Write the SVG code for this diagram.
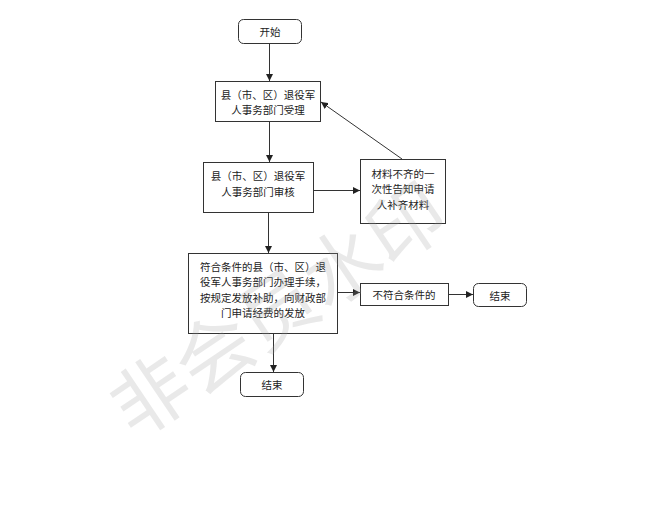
<svg xmlns="http://www.w3.org/2000/svg" width="646" height="520" viewBox="0 0 646 520">
<defs>
<style>
.box{fill:#fff;stroke:#333;stroke-width:1}
.t{font-family:"Noto Sans CJK SC","Noto Sans",sans-serif;font-size:10.5px;fill:#222;text-anchor:middle;dominant-baseline:central}
.ln{stroke:#333;stroke-width:1;fill:none;marker-end:url(#ah)}
.wm{font-family:"Noto Sans CJK SC",sans-serif;font-size:77px;fill:#999;fill-opacity:0.22;text-anchor:middle;dominant-baseline:central}
</style>
<marker id="ah" viewBox="0 0 10 10" refX="10" refY="5" markerWidth="7" markerHeight="7" markerUnits="userSpaceOnUse" orient="auto">
<path d="M0,0 L10,5 L0,10 z" fill="#222"/>
</marker>
</defs>
<rect width="646" height="520" fill="#fff"/>
<g id="connectors">
<line class="ln" x1="269.5" y1="43" x2="269.5" y2="81"/>
<line class="ln" x1="269.5" y1="121" x2="269.5" y2="162"/>
<line class="ln" x1="268.5" y1="212" x2="268.5" y2="253"/>
<line class="ln" x1="313" y1="190.5" x2="360" y2="190.5"/>
<line class="ln" x1="402" y1="159" x2="321" y2="102"/>
<line class="ln" x1="337" y1="292.5" x2="360" y2="292.5"/>
<line class="ln" x1="448" y1="294.5" x2="473" y2="294.5"/>
<line class="ln" x1="273.5" y1="334" x2="273.5" y2="372"/>
</g>
<g id="start">
<rect class="box" x="238.5" y="19.5" width="63" height="24" rx="5"/>
<text class="t" x="270" y="31.5">开始</text>
</g>
<g id="accept">
<rect class="box" x="215.5" y="81.5" width="105" height="40"/>
<text class="t" x="268" y="94">县（市、区）退役军</text>
<text class="t" x="268" y="109">人事务部门受理</text>
</g>
<g id="review">
<rect class="box" x="203.5" y="162.5" width="110" height="50"/>
<text class="t" x="258" y="175">县（市、区）退役军</text>
<text class="t" x="258" y="191">人事务部门审核</text>
</g>
<g id="notify">
<rect class="box" x="360.5" y="159.5" width="85" height="64"/>
<text class="t" x="403" y="173">材料不齐的一</text>
<text class="t" x="403" y="188.5">次性告知申请</text>
<text class="t" x="403" y="204">人补齐材料</text>
</g>
<g id="handle">
<rect class="box" x="188.5" y="253.5" width="149" height="80"/>
<text class="t" x="263" y="266">符合条件的县（市、区）退</text>
<text class="t" x="263" y="281.5">役军人事务部门办理手续，</text>
<text class="t" x="263" y="297">按规定发放补助，向财政部</text>
<text class="t" x="263" y="312.5">门申请经费的发放</text>
</g>
<g id="reject">
<rect class="box" x="360.5" y="283.5" width="88" height="22"/>
<text class="t" x="404" y="294">不符合条件的</text>
</g>
<g id="end-right">
<rect class="box" x="473.5" y="283.5" width="53" height="23" rx="5"/>
<text class="t" x="500" y="295">结束</text>
</g>
<g id="end-bottom">
<rect class="box" x="240.5" y="372.5" width="63" height="24" rx="5"/>
<text class="t" x="272" y="384.5">结束</text>
</g>
<text class="wm" transform="translate(275,305) rotate(-34)">非会员水印</text>
</svg>
